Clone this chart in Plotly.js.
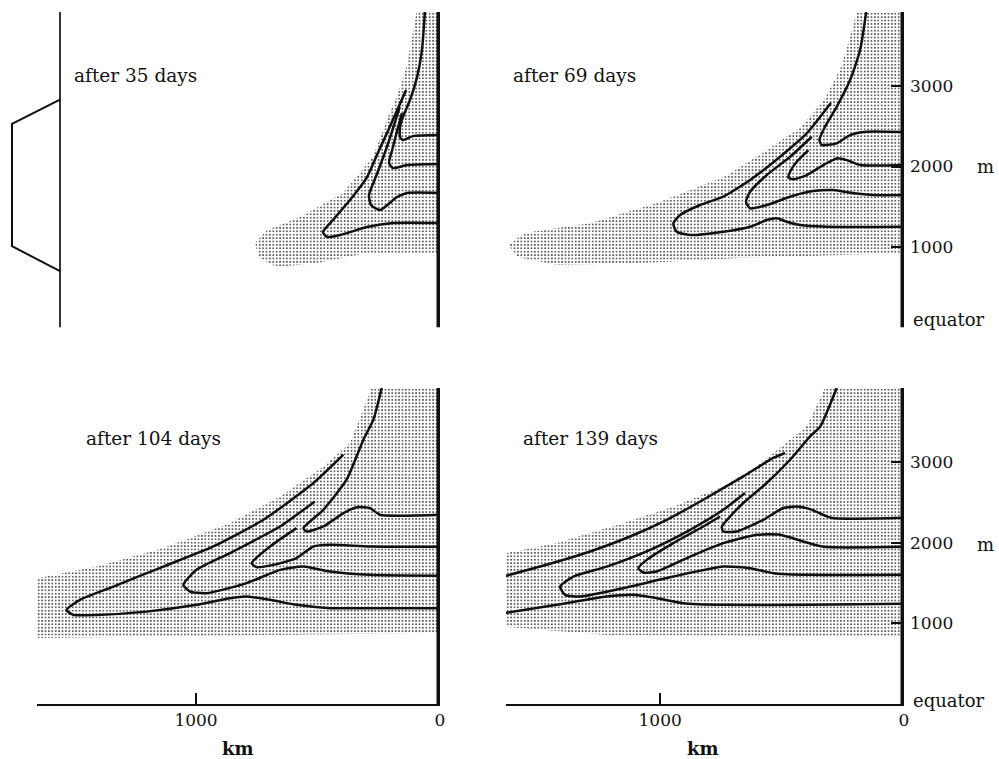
<!DOCTYPE html>
<html>
<head>
<meta charset="utf-8">
<script src="https://cdn.plot.ly/plotly-3.0.1.min.js"></script>
<style>
  html, body { margin: 0; padding: 0; background: #fff; }
  #chart { width: 999px; height: 759px; }
</style>
</head>
<body>
<div id="chart"></div>
<script>
// ---- labels and ticks ----
const panelLabels = ['after 35 days', 'after 69 days', 'after 104 days', 'after 139 days'];
const depthTicks = [1000, 2000, 3000];            // m
const distTickVals = [1000, 0];                   // km from the equator
const distTickText = ['1000', '0'];

// ---- initial profile drawn beside the first snapshot (amplitude 0..1 vs depth, m) ----
const profileDepth = [2830, 2530, 1010, 700];
const profileAmp = [0, 1, 1, 0];

// ---- stippled regions: [distance km, depth m] ----
const shade35 = [[0,3920],[96,3920],[111,3658],[137,3239],[172,2911],[219,2577],[275,2118],[398,1671],[574,1372],[709,1211],[758,1049],[746,876],[668,751],[504,801],[299,925],[0,925]];
const shade69 = [[0,3920],[193,3920],[217,3658],[258,3235],[328,2825],[422,2490],[562,2204],[738,1869],[1013,1546],[1283,1298],[1558,1174],[1620,1025],[1587,876],[1423,776],[1078,801],[668,863],[258,900],[0,925]];
const shade104 = [[0,3920],[280,3920],[369,3238],[478,2947],[656,2575],[861,2244],[1134,1934],[1408,1705],[1652,1561],[1652,820],[0,882]];
const shade139 = [[0,3920],[324,3920],[399,3444],[467,3279],[604,2948],[741,2699],[946,2450],[1151,2244],[1424,1996],[1632,1871],[1632,956],[1218,857],[0,832]];

// ---- contour lines after 35 days ----
const a35 = [[62,3920],[74,3447],[94,3111],[123,2826],[152,2615],[164,2491],[164,2366],[152,2329],[111,2378],[0,2391]];
const b35 = [[156,2664],[175,2453],[196,2205],[209,2043],[193,1981],[135,2018],[0,2031]];
const c35 = [[165,2740],[190,2500],[222,2205],[260,1894],[291,1646],[283,1521],[246,1459],[176,1621],[135,1671],[0,1671]];
const d35 = [[139,2950],[170,2738],[212,2452],[255,2167],[299,1869],[369,1584],[439,1335],[480,1186],[463,1124],[410,1149],[299,1248],[193,1298],[0,1298]];

// ---- contour lines after 69 days ----
const a69 = [[155,3920],[180,3447],[221,3074],[276,2742],[324,2494],[347,2329],[337,2267],[276,2288],[221,2391],[153,2432],[0,2428]];
const b69 = [[392,2204],[440,2059],[467,1935],[474,1865],[454,1841],[399,1894],[331,2018],[276,2101],[235,2080],[180,2018],[0,2018]];
const c69 = [[378,2370],[467,2122],[563,1894],[631,1687],[648,1562],[631,1480],[563,1521],[467,1625],[372,1695],[290,1708],[205,1667],[127,1646],[0,1646]];
const d69 = [[300,2790],[399,2412],[508,2122],[631,1832],[741,1625],[836,1522],[918,1398],[946,1294],[932,1190],[877,1149],[741,1190],[631,1252],[563,1335],[522,1356],[481,1314],[426,1273],[317,1252],[0,1252]];

// ---- contour lines after 104 days ----
const a104 = [[239,3920],[273,3527],[314,3279],[383,2782],[478,2409],[560,2182],[547,2140],[478,2202],[396,2368],[335,2443],[287,2431],[246,2347],[0,2347]];
const b104 = [[588,2182],[697,1954],[772,1747],[752,1698],[683,1726],[588,1810],[519,1954],[451,1975],[287,1954],[0,1950]];
const c104 = [[513,2513],[656,2202],[861,1872],[998,1664],[1052,1478],[1025,1395],[957,1375],[793,1499],[656,1664],[560,1705],[451,1643],[287,1602],[0,1590]];
const d104 = [[396,3093],[519,2741],[724,2285],[929,1954],[1134,1705],[1339,1457],[1476,1292],[1531,1167],[1503,1105],[1408,1105],[1203,1146],[998,1230],[861,1313],[793,1333],[697,1292],[588,1230],[451,1189],[287,1189],[0,1189]];

// ---- contour lines after 139 days (outer one leaves the frame on the left) ----
const a139 = [[276,3920],[344,3440],[385,3320],[467,3030],[563,2741],[659,2493],[713,2326],[747,2202],[741,2140],[686,2140],[577,2285],[495,2431],[440,2450],[385,2418],[300,2310],[0,2310]];
const b139 = [[754,2326],[823,2202],[946,1996],[1055,1788],[1089,1685],[1069,1631],[1014,1643],[877,1829],[741,1996],[604,2099],[508,2099],[413,2016],[330,1950],[0,1950]];
const c139 = [[652,2617],[741,2409],[877,2161],[1041,1913],[1219,1705],[1356,1581],[1410,1457],[1390,1354],[1328,1333],[1151,1437],[946,1581],[741,1705],[631,1685],[536,1623],[385,1602],[0,1602]];
const d139Upper = [[488,3114],[536,3052],[659,2823],[823,2534],[973,2285],[1123,2078],[1287,1892],[1492,1705],[1643,1581]];
const d139Lower = [[1643,1126],[1424,1230],[1219,1333],[1110,1354],[1014,1313],[905,1251],[741,1230],[385,1230],[0,1243]];

// ---- page geometry ----
const W = 999, H = 759;
const fx = p => p / W;
const fy = p => 1 - p / H;
const SERIF = 'DejaVu Serif, Liberation Serif, serif';
const INK = '#111';
const DEPTH_MAX = 3920;

const xs = pts => pts.map(p => p[0]);
const ys = pts => pts.map(p => p[1]);
const joinGap = (p, q) => p.concat([[null, null]], q);

const panels = [
  { shade: shade35,  lines: [a35, b35, c35, d35],  col: [37, 440],  row: [12, 327.5], xmax: 1652 },
  { shade: shade69,  lines: [a69, b69, c69, d69],  col: [506, 904], row: [12, 327.5], xmax: 1632 },
  { shade: shade104, lines: [a104, b104, c104, d104], col: [37, 440],  row: [388, 704], xmax: 1652 },
  { shade: shade139, lines: [a139, b139, c139, joinGap(d139Upper, d139Lower)], col: [506, 904], row: [388, 704], xmax: 1632 }
];

const traces = [];
const layout = {
  width: W, height: H,
  margin: { l: 0, r: 0, t: 0, b: 0 },
  paper_bgcolor: '#fff',
  plot_bgcolor: 'rgba(0,0,0,0)',
  showlegend: false,
  font: { family: SERIF, color: INK, size: 16 },
  shapes: [],
  annotations: []
};

panels.forEach((p, i) => {
  const n = i + 1;
  const xk = n === 1 ? 'x' : 'x' + n;
  const yk = n === 1 ? 'y' : 'y' + n;
  const bottomRow = i >= 2;
  const rightCol = i % 2 === 1;

  traces.push({
    type: 'scatter', mode: 'lines', xaxis: xk, yaxis: yk,
    x: xs(p.shade), y: ys(p.shade),
    fill: 'toself', fillcolor: 'rgba(0,0,0,0)',
    fillpattern: { shape: '.', size: 3.4, solidity: 0.24, fgcolor: '#3c3c3c', bgcolor: '#ffffff', fillmode: 'replace' },
    line: { width: 0 }, hoverinfo: 'skip'
  });
  p.lines.forEach(l => traces.push({
    type: 'scatter', mode: 'lines', xaxis: xk, yaxis: yk,
    x: xs(l), y: ys(l), connectgaps: false,
    line: { color: INK, width: 2.5, shape: 'spline', smoothing: 0.55 },
    hoverinfo: 'skip'
  }));

  layout['xaxis' + (n === 1 ? '' : n)] = {
    domain: [fx(p.col[0]), fx(p.col[1])],
    range: [p.xmax, 0], anchor: yk,
    showgrid: false, zeroline: false,
    showline: bottomRow, linecolor: INK, linewidth: 1.7,
    ticks: bottomRow ? 'inside' : '', ticklen: 11, tickwidth: 1.8, tickcolor: INK,
    tickmode: 'array', tickvals: distTickVals, ticktext: distTickText,
    showticklabels: bottomRow, tickfont: { family: SERIF, size: 17, color: INK }
  };
  layout['yaxis' + (n === 1 ? '' : n)] = {
    domain: [fy(p.row[1]), fy(p.row[0])],
    range: [0, DEPTH_MAX], anchor: xk, side: 'right',
    showgrid: false, zeroline: false, showline: false,
    ticks: rightCol ? 'inside' : '', ticklen: 13, tickwidth: 2, tickcolor: INK,
    tickmode: 'array', tickvals: depthTicks,
    showticklabels: rightCol, ticklabelstandoff: 5,
    tickfont: { family: SERIF, size: 17, color: INK }
  };

  // thick vertical line at the equator boundary
  layout.shapes.push({
    type: 'line', xref: xk, yref: yk, x0: 0, x1: 0, y0: 0, y1: DEPTH_MAX,
    line: { color: INK, width: 7 }, layer: 'above'
  });
});

// inset: initial profile next to the first snapshot
traces.push({
  type: 'scatter', mode: 'lines', xaxis: 'x5', yaxis: 'y5',
  x: [0, 0], y: [0, DEPTH_MAX], line: { color: INK, width: 1.7 }, hoverinfo: 'skip'
});
traces.push({
  type: 'scatter', mode: 'lines', xaxis: 'x5', yaxis: 'y5',
  x: profileAmp, y: profileDepth, line: { color: INK, width: 2 }, hoverinfo: 'skip'
});
layout.xaxis5 = { domain: [fx(0), fx(64)], range: [1.25, -0.0833], visible: false, anchor: 'y5' };
layout.yaxis5 = { domain: [fy(327.5), fy(12)], range: [0, DEPTH_MAX], visible: false, anchor: 'x5' };

// panel titles
const labelPos = [[72, 76], [511, 76], [84, 438], [521, 438]];
panelLabels.forEach((t, i) => layout.annotations.push({
  xref: 'paper', yref: 'paper', x: fx(labelPos[i][0]), y: fy(labelPos[i][1]),
  xanchor: 'left', yanchor: 'middle', showarrow: false, text: t,
  font: { family: SERIF, size: 18.5, color: INK }
}));

// axis words
const words = [
  { t: 'equator', x: 911, y: 319, a: 'left' },
  { t: 'equator', x: 911, y: 700, a: 'left' },
  { t: 'm', x: 985, y: 166, a: 'center' },
  { t: 'm', x: 985, y: 544, a: 'center' },
  { t: '<b>km</b>', x: 238, y: 748, a: 'center' },
  { t: '<b>km</b>', x: 703, y: 748, a: 'center' }
];
words.forEach(w => layout.annotations.push({
  xref: 'paper', yref: 'paper', x: fx(w.x), y: fy(w.y),
  xanchor: w.a, yanchor: 'middle', showarrow: false, text: w.t,
  font: { family: SERIF, size: 18, color: INK }
}));

Plotly.newPlot('chart', traces, layout, { staticPlot: true, displayModeBar: false });
</script>
</body>
</html>
